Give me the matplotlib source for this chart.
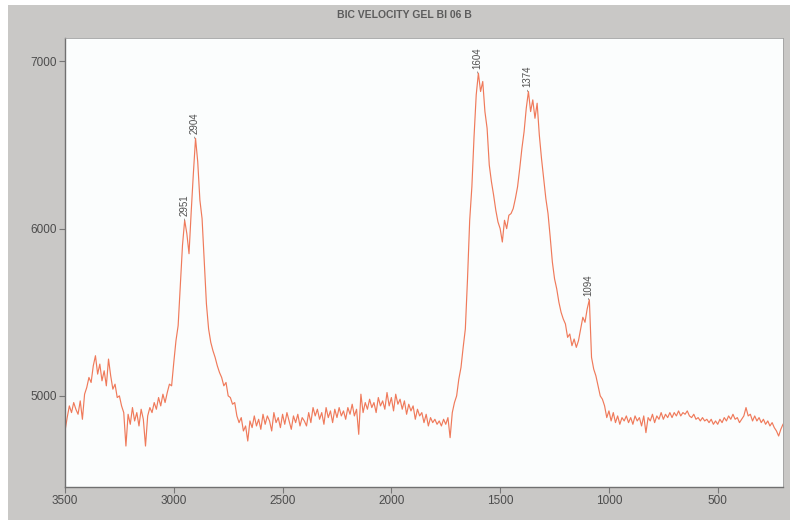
import numpy as np
import matplotlib
matplotlib.use("Agg")
import matplotlib.pyplot as plt
from matplotlib.patches import Rectangle

plt.rcParams["font.family"] = ["Liberation Sans", "DejaVu Sans"]

title = "BIC VELOCITY GEL BI 06 B"

# Raman shift grid (cm-1), 3500 down to 200 in steps of 10
wavenumber = np.arange(3500, 195, -10)

# Intensity, one row per 100 cm-1 block
intensity = [
    4790, 4870, 4940, 4900, 4960, 4920, 4890, 4970, 4860, 5010,   # 3500-3410
    5050, 5110, 5080, 5180, 5240, 5130, 5190, 5090, 5150, 5060,   # 3400-3310
    5220, 5120, 5040, 5070, 4990, 5000, 4940, 4900, 4700, 4890,   # 3300-3210
    4830, 4930, 4850, 4900, 4820, 4920, 4860, 4700, 4880, 4930,   # 3200-3110
    4900, 4960, 4920, 4990, 4940, 5010, 4960, 5020, 5070, 5060,   # 3100-3010
    5200, 5330, 5420, 5660, 5900, 6050, 5970, 5850, 6100, 6330,   # 3000-2910
    6540, 6400, 6170, 6060, 5800, 5550, 5400, 5320, 5270, 5230,   # 2900-2810
    5180, 5140, 5110, 5060, 5080, 5000, 4990, 4950, 4960, 4880,   # 2800-2710
    4840, 4870, 4790, 4820, 4730, 4850, 4810, 4880, 4820, 4860,   # 2700-2610
    4800, 4890, 4830, 4880, 4850, 4790, 4900, 4840, 4870, 4810,   # 2600-2510
    4890, 4830, 4900, 4850, 4800, 4880, 4840, 4890, 4820, 4870,   # 2500-2410
    4850, 4820, 4900, 4840, 4930, 4880, 4920, 4860, 4900, 4830,   # 2400-2310
    4930, 4870, 4910, 4840, 4920, 4870, 4930, 4880, 4910, 4860,   # 2300-2210
    4930, 4890, 4950, 4880, 4920, 4770, 5010, 4900, 4960, 4920,   # 2200-2110
    4980, 4930, 4960, 4900, 4990, 4940, 4970, 4920, 5020, 4940,   # 2100-2010
    4990, 4910, 5010, 4950, 4980, 4920, 4970, 4890, 4950, 4910,   # 2000-1910
    4940, 4860, 4920, 4880, 4900, 4840, 4890, 4820, 4870, 4840,   # 1900-1810
    4860, 4830, 4850, 4820, 4860, 4830, 4870, 4750, 4900, 4960,   # 1800-1710
    5000, 5100, 5170, 5290, 5400, 5700, 6050, 6250, 6550, 6800,   # 1700-1610
    6930, 6820, 6880, 6700, 6600, 6380, 6280, 6200, 6110, 6040,   # 1600-1510
    6000, 5920, 6050, 6000, 6080, 6090, 6120, 6180, 6250, 6360,   # 1500-1410
    6480, 6580, 6720, 6820, 6700, 6770, 6660, 6750, 6560, 6420,   # 1400-1310
    6300, 6180, 6090, 5950, 5800, 5700, 5640, 5560, 5500, 5460,   # 1300-1210
    5430, 5350, 5370, 5300, 5340, 5290, 5330, 5400, 5470, 5440,   # 1200-1110
    5520, 5575, 5230, 5160, 5120, 5060, 5000, 4980, 4940, 4870,   # 1100-1010
    4910, 4850, 4900, 4840, 4880, 4830, 4870, 4850, 4880, 4840,   # 1000-910
    4870, 4830, 4880, 4850, 4870, 4820, 4880, 4780, 4870, 4850,   # 900-810
    4890, 4840, 4880, 4860, 4900, 4860, 4890, 4870, 4900, 4870,   # 800-710
    4900, 4880, 4910, 4880, 4900, 4890, 4910, 4880, 4870, 4890,   # 700-610
    4860, 4870, 4850, 4870, 4850, 4860, 4840, 4860, 4830, 4850,   # 600-510
    4830, 4860, 4840, 4870, 4850, 4880, 4860, 4890, 4860, 4870,   # 500-410
    4840, 4860, 4880, 4930, 4880, 4890, 4850, 4880, 4850, 4870,   # 400-310
    4840, 4860, 4830, 4850, 4820, 4840, 4810, 4790, 4760, 4800,   # 300-210
    4830,                                                         # 200
]

# Labelled band positions (cm-1)
peak_labels = [2951, 2904, 1604, 1374, 1094]

x_ticks = [3500, 3000, 2500, 2000, 1500, 1000, 500]
y_ticks = [5000, 6000, 7000]

W, H = 790, 520
fig = plt.figure(figsize=(W / 100, H / 100), dpi=100, facecolor="white")

# grey card behind the plot
fig.patches.append(Rectangle((8 / W, 0), 1 - 8 / W, 1 - 5 / H,
                             transform=fig.transFigure, facecolor="#c9c8c6",
                             edgecolor="none", zorder=-10))

ax = fig.add_axes([65 / W, 1 - 487 / H, (783 - 65) / W, (487 - 38) / H])
ax.set_zorder(5)
ax.set_facecolor("#fbfdfd")

wn = np.asarray(wavenumber)
y = np.asarray(intensity)
ax.plot(wn, y, color="#ef7352", lw=0.85, alpha=0.95)

ax.set_xlim(3500, 200)
ax.set_ylim(4455, 7140)
ax.set_xticks(x_ticks)
ax.set_yticks(y_ticks)
ax.tick_params(axis="both", direction="out", length=4, width=0.8,
               color="#777777", labelcolor="#4c4c4c", labelsize=8.5, pad=2)

for side in ("left", "bottom"):
    ax.spines[side].set_color("#707070")
    ax.spines[side].set_linewidth(1.0)
for side in ("top", "right"):
    ax.spines[side].set_color("#a0a0a0")
    ax.spines[side].set_linewidth(0.6)

# vertical band labels above each peak
for p in peak_labels:
    mask = np.abs(wn - p) <= 8
    top = y[mask].max()
    ax.annotate(str(p), xy=(p, top), xytext=(0, 3), textcoords="offset points",
                rotation=90, ha="center", va="bottom", fontsize=7,
                color="#505050",
                arrowprops=dict(arrowstyle="-", color="#777777", lw=0.5,
                                shrinkA=0, shrinkB=0))

fig.text(404 / W, 1 - 15 / H, title, ha="center", va="center",
         fontsize=7.5, fontweight="bold", color="#5c5c5c")

fig.savefig("out.png", dpi=100, facecolor=fig.get_facecolor())
